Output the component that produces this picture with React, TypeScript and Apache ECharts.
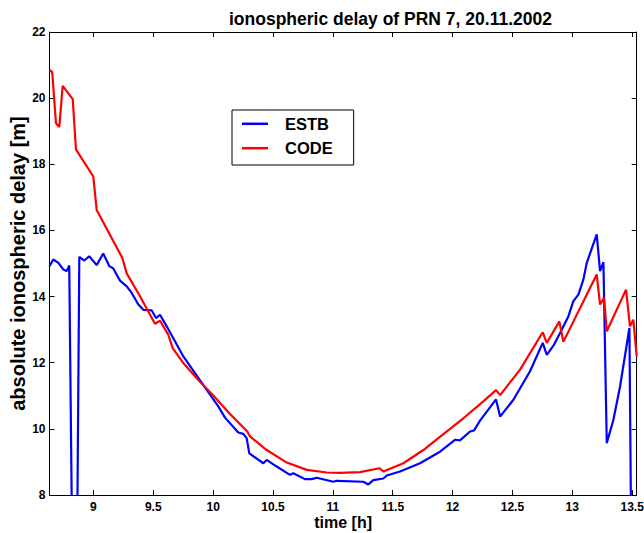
import React, { useEffect, useRef } from "react";
import * as echarts from "echarts";

const titleText = "ionospheric delay of PRN 7, 20.11.2002";
const xName = "time [h]";
const yName = "absolute ionospheric delay [m]";
const seriesNames = ["ESTB", "CODE"];

const xTicks = [9, 9.5, 10, 10.5, 11, 11.5, 12, 12.5, 13, 13.5];
const yTicks = [8, 10, 12, 14, 16, 18, 20, 22];

const estbTime = [
  8.633, 8.665, 8.707, 8.748, 8.777, 8.798, 8.841, 8.85, 8.882, 8.924, 8.965, 9.027,
  9.082, 9.133, 9.166, 9.222, 9.278, 9.32, 9.375, 9.417, 9.487, 9.523, 9.556, 9.612,
  9.751, 9.876, 10.043, 10.099, 10.21, 10.252, 10.28, 10.302, 10.419, 10.447, 10.531,
  10.642, 10.67, 10.767, 10.824, 10.865, 11.004, 11.032, 11.255, 11.296, 11.338,
  11.422, 11.45, 11.561, 11.728, 11.895, 12.02, 12.062, 12.146, 12.179, 12.229,
  12.363, 12.397, 12.508, 12.647, 12.753, 12.787, 12.848, 12.898, 12.967, 13.009,
  13.051, 13.093, 13.121, 13.204, 13.232, 13.26, 13.288, 13.343, 13.399, 13.477,
  13.508, 13.538,
];
const estbDelay = [
  14.92, 15.12, 15.02, 14.82, 14.77, 14.94, 0, 0, 15.2, 15.09, 15.22, 14.95,
  15.3, 14.92, 14.85, 14.48, 14.31, 14.11, 13.76, 13.6, 13.58, 13.35, 13.45, 13.1,
  12.19, 11.54, 10.68, 10.34, 9.89, 9.85, 9.72, 9.26, 8.96, 9.06, 8.86,
  8.61, 8.66, 8.48, 8.48, 8.52, 8.4, 8.43, 8.4, 8.32, 8.45,
  8.5, 8.59, 8.71, 8.96, 9.31, 9.67, 9.65, 9.92, 9.95, 10.25,
  10.89, 10.37, 10.88, 11.74, 12.6, 12.24, 12.55, 12.9, 13.4, 13.86,
  14.06, 14.52, 15.02, 15.88, 14.77, 15.04, 9.57, 10.27, 11.28, 13.05,
  0, 0,
];

const codeTime = [
  8.633, 8.656, 8.687, 8.715, 8.743, 8.827, 8.854, 8.999, 9.027, 9.241, 9.278, 9.389,
  9.514, 9.556, 9.625, 9.662, 9.751, 9.876, 10.001, 10.141, 10.285, 10.308, 10.447,
  10.615, 10.782, 10.949, 11.06, 11.227, 11.388, 11.422, 11.589, 11.756, 11.923,
  12.09, 12.257, 12.363, 12.397, 12.564, 12.753, 12.787, 12.892, 12.925, 13.204,
  13.232, 13.265, 13.288, 13.449, 13.482, 13.51, 13.538,
];
const codeDelay = [
  20.86, 20.78, 19.24, 19.13, 20.37, 19.97, 18.45, 17.63, 16.62, 15.17, 14.7, 14.01,
  13.18, 13.27, 12.85, 12.44, 11.99, 11.48, 11.01, 10.45, 9.92, 9.77, 9.36,
  8.98, 8.76, 8.68, 8.67, 8.69, 8.81, 8.71, 8.96, 9.36, 9.84,
  10.32, 10.83, 11.17, 11.02, 11.79, 12.92, 12.6, 13.25, 12.63, 14.67,
  13.76, 13.96, 12.95, 14.21, 13.1, 13.3, 12.19,
];

const X_MIN = 8.633;
const X_MAX = 13.538;

export default function App() {
  const ref = useRef<HTMLDivElement>(null);
  useEffect(() => {
    if (!ref.current) return;
    const chart = echarts.init(ref.current, null, { renderer: "svg" });
    const font = "'Liberation Sans', Arial, Helvetica, sans-serif";
    const estb = estbTime.map((t, i) => [t, estbDelay[i]]);
    const code = codeTime.map((t, i) => [t, codeDelay[i]]);
    const axisLine = { show: true, lineStyle: { color: "#000", width: 1 } };
    const tick = { show: true, inside: true, length: 5, lineStyle: { color: "#000", width: 1 } };
    chart.setOption({
      animation: false,
      backgroundColor: "#fff",
      textStyle: { fontFamily: font },
      title: {
        text: titleText,
        left: 224,
        top: 5,
        textStyle: { fontFamily: font, fontSize: 17.5, fontWeight: "bold", color: "#000" },
      },
      legend: {
        orient: "vertical",
        left: 232,
        top: 110,
        data: seriesNames,
        icon: "rect",
        itemWidth: 26,
        itemHeight: 2.5,
        itemGap: 7.4,
        padding: [5.3, 21, 8.3, 10],
        borderColor: "#000",
        borderWidth: 1,
        backgroundColor: "#fff",
        textStyle: { fontFamily: font, fontSize: 16.5, fontWeight: "bold", color: "#000", padding: [0, 0, 0, 12] },
      },
      grid: {
        left: 49.5,
        right: 7.3,
        top: 32,
        bottom: 38,
        containLabel: false,
        outerBoundsMode: "none",
      },
      xAxis: [
        {
          type: "value",
          min: X_MIN,
          max: X_MAX,
          position: "bottom",
          name: xName,
          nameLocation: "middle",
          nameGap: 19,
          nameMoveOverlap: false,
          nameTextStyle: { fontFamily: font, fontSize: 16, fontWeight: "bold", color: "#000" },
          axisLine,
          axisTick: { ...tick, customValues: xTicks },
          axisLabel: {
            customValues: xTicks,
            margin: 6,
            fontFamily: font,
            fontSize: 12,
            fontWeight: "bold",
            color: "#000",
          },
          splitLine: { show: false },
        },
        {
          type: "value",
          min: X_MIN,
          max: X_MAX,
          position: "top",
          axisLine,
          axisTick: { ...tick, customValues: xTicks },
          axisLabel: { show: false },
          splitLine: { show: false },
        },
      ],
      yAxis: [
        {
          type: "value",
          min: 8,
          max: 22,
          interval: 2,
          position: "left",
          name: yName,
          nameLocation: "middle",
          nameGap: 21.5,
          nameMoveOverlap: false,
          nameTextStyle: { fontFamily: font, fontSize: 20, fontWeight: "bold", color: "#000" },
          axisLine,
          axisTick: { ...tick, customValues: yTicks },
          axisLabel: {
            customValues: yTicks,
            margin: 4,
            fontFamily: font,
            fontSize: 12,
            fontWeight: "bold",
            color: "#000",
          },
          splitLine: { show: false },
        },
        {
          type: "value",
          min: 8,
          max: 22,
          interval: 2,
          position: "right",
          axisLine,
          axisTick: { ...tick, customValues: yTicks },
          axisLabel: { show: false },
          splitLine: { show: false },
        },
      ],
      series: [
        {
          name: seriesNames[0],
          type: "line",
          data: estb,
          showSymbol: false,
          clip: true,
          lineStyle: { color: "#0000ff", width: 2.2 },
          itemStyle: { color: "#0000ff" },
        },
        {
          name: seriesNames[1],
          type: "line",
          data: code,
          showSymbol: false,
          clip: true,
          lineStyle: { color: "#ff0000", width: 2.2 },
          itemStyle: { color: "#ff0000" },
        },
      ],
    });
    return () => chart.dispose();
  }, []);
  return (
    <div
      ref={ref}
      style={{ position: "absolute", left: 0, top: 0, width: 644, height: 533 }}
    />
  );
}
